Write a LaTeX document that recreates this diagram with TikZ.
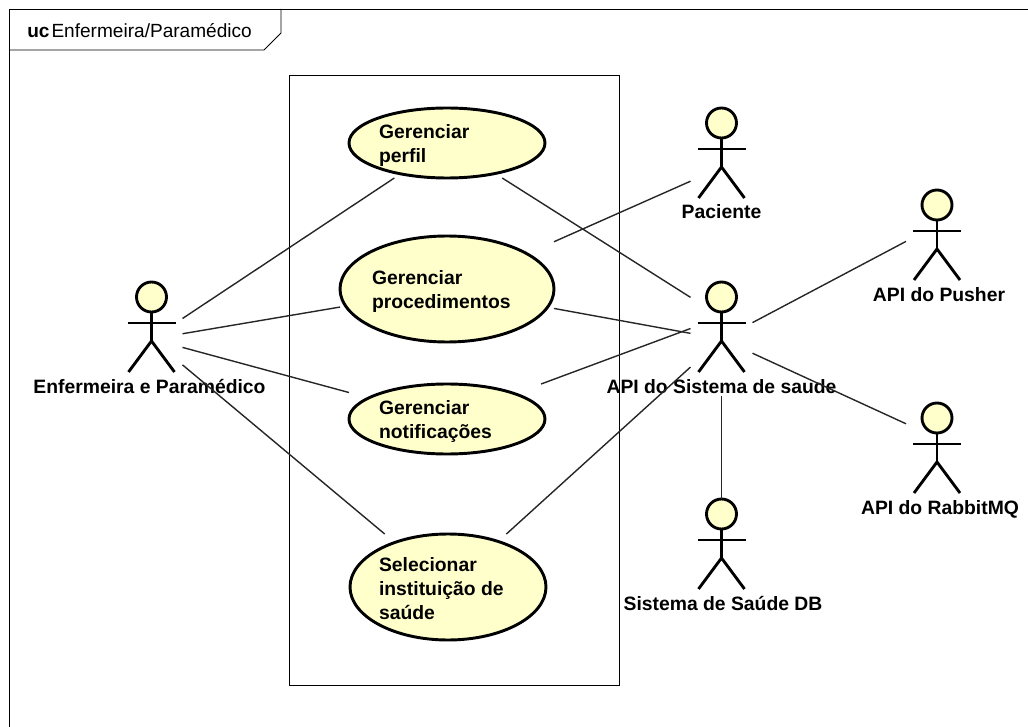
\documentclass[tikz,border=0pt]{standalone}
\usepackage{fontspec}
\setmainfont{Liberation Sans}
\definecolor{ucfill}{HTML}{FFFFCC}
\tikzset{
  frameline/.style={draw=black,line width=0.65pt},
  conn/.style={draw=black!85,line width=1.05pt},
  ucshape/.style={draw=black,line width=2.2pt,fill=ucfill},
  stick/.style={draw=black,line width=2.15pt},
  ucbox/.style={rectangle,inner sep=0pt,outer sep=0pt,font=\bfseries\fontsize{14.5}{18}\selectfont,align=left,anchor=center},
  actorbox/.style={rectangle,inner sep=0pt,outer sep=0pt,minimum width=46.5pt,minimum height=85.5pt},
  actorlabel/.style={inner sep=0pt,font=\bfseries\fontsize{14.5}{17}\selectfont,anchor=base},
}
% #1 name, #2 centre x, #3 centre y, #4 half width, #5 half height, #6 text position, #7 text
\newcommand{\usecasebox}[7]{%
  \path[ucshape] (#2,#3) ellipse [x radius=#4,y radius=#5];
  \node[ucbox,minimum width={(2*#4)*0.75pt},minimum height={(2*#5)*0.75pt}] (#1) at (#2,#3) {};
  \node[ucbox,anchor=west] (#1text) at (#6) {#7};
}
% #1 name, #2 head x, #3 head y, #4 label x, #5 label
\newcommand{\actorfig}[5]{%
  \node[actorbox] (#1) at (#2,#3+42) {};
  \node[actorbox,minimum height=57pt] (#1top) at (#2,#3+20) {};
  \path[stick,fill=ucfill] (#2,#3) circle [radius=15];
  \path[stick] (#2,#3+15) -- (#2,#3+44);
  \path[stick] (#2-24,#3+26) -- (#2+24,#3+26);
  \path[stick] (#2-23,#3+75) -- (#2,#3+44) -- (#2+23,#3+75);
  \node[actorlabel] (#1label) at (#4,#3+96) {#5};
}
\begin{document}
\begin{tikzpicture}[x=0.75pt,y=-0.75pt]
\useasboundingbox (0,0) rectangle (1028,727);
\path[frameline] (1028,9) -- (9,9) -- (9,727);
\path[frameline] (9,50) -- (264,50) -- (281,33) -- (281,9);
\node[inner sep=0pt,anchor=base west,font=\fontsize{14.3}{17}\selectfont] (frametitle) at (27,37.5) {\textbf{uc}\kern1.5pt Enfermeira/Paramédico};
\node[rectangle,draw=black,line width=0.65pt,inner sep=0pt,minimum width=247.5pt,minimum height=457.5pt] (system) at (454,380) {};

\usecasebox{perfil}{447}{143}{98}{35}{379,145.5}{Gerenciar\\perfil}
\usecasebox{proc}{447}{289}{107}{53}{372,291.5}{Gerenciar\\procedimentos}
\usecasebox{notif}{447}{419}{98}{35}{379,421.5}{Gerenciar\\notificações}
\usecasebox{selec}{448}{587}{98}{53}{379,588.5}{Selecionar\\instituição de\\saúde}

\actorfig{enf}{151.5}{297}{149.5}{Enfermeira e Paramédico}
\actorfig{pac}{721.5}{123}{721.5}{Paciente}
\node[actorbox] (pacmid) at (721.5,167.5) {};
\actorfig{api}{721.5}{297}{721.5}{API do Sistema de saude}
\actorfig{push}{937}{205}{939}{API do Pusher}
\actorfig{rabbit}{937}{418}{940}{API do RabbitMQ}
\actorfig{db}{721.5}{514}{723}{Sistema de Saúde DB}

\foreach \a/\b in {enf/perfil,enf/proc,enf/notif,enf/selec,
                   perfil/apitop,proc/api,notif/apitop,selec/api,
                   proc/pacmid,api/pushtop,api/rabbittop,api/db}
  \path[conn] (\a) -- (\b);
\end{tikzpicture}
\end{document}
